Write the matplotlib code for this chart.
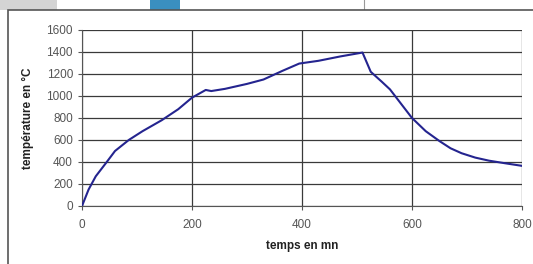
import matplotlib.pyplot as plt
from matplotlib.patches import Rectangle

# temps (mn) / temperature (degC)
temps = [0, 12, 25, 45, 60, 85, 110, 145, 175, 200, 225, 235, 260, 300, 330,
         365, 395, 430, 470, 510, 525, 545, 560, 580, 600, 625, 650, 670, 690,
         715, 740, 770, 800]
temperature = [0, 150, 270, 400, 500, 600, 680, 780, 880, 985, 1055, 1045, 1065,
               1110, 1150, 1230, 1295, 1320, 1360, 1395, 1220, 1130, 1060, 930,
               800, 680, 590, 525, 480, 440, 412, 388, 365]
xticks = [0, 200, 400, 600, 800]
yticks = [0, 200, 400, 600, 800, 1000, 1200, 1400, 1600]

plt.rcParams['font.family'] = ['Liberation Sans', 'DejaVu Sans']

fig = plt.figure(figsize=(5.33, 2.64), dpi=100)
W, H = 533, 264

# bits of the surrounding screenshot (kept behind the axes)
fig.patches.append(Rectangle((0, 1 - 10 / H), 57 / W, 10 / H, transform=fig.transFigure,
                             facecolor='#d4d4d4', edgecolor='none', zorder=-5))
fig.patches.append(Rectangle((150 / W, 1 - 10 / H), 30 / W, 10 / H, transform=fig.transFigure,
                             facecolor='#3a8fc0', edgecolor='none', zorder=-5))
fig.lines.append(plt.Line2D([364 / W, 364 / W], [1 - 10 / H, 1], transform=fig.transFigure,
                            color='#999999', lw=0.8, zorder=-5))
fig.patches.append(Rectangle((8 / W, -0.1), 1.2, 1 - 10 / H + 0.1, transform=fig.transFigure,
                             facecolor='white', edgecolor='#555555', lw=1.2, zorder=-4))

ax = fig.add_axes([82 / W, (H - 206) / H, 440 / W, 176 / H])
ax.plot(temps, temperature, color='#24248f', lw=1.5, zorder=3)

ax.set_xlim(0, 800)
ax.set_ylim(0, 1600)
ax.set_xticks(xticks)
ax.set_yticks(yticks)
ax.grid(True, color='#3a3a3a', lw=0.9)
for s in ['top', 'right']:
    ax.spines[s].set_visible(False)
for s in ['left', 'bottom']:
    ax.spines[s].set_color('#555555')
ax.tick_params(colors='#555555', labelsize=8.5, length=3, width=0.8)
ax.tick_params(axis='x', pad=6)
ax.set_xlabel('temps en mn', fontsize=8.5, fontweight='bold', color='#222222', labelpad=7)
ax.set_ylabel('température en °C', fontsize=8.5, fontweight='bold', color='#222222', labelpad=9)
ax.set_facecolor('white')

fig.savefig('out.png', dpi=100)
